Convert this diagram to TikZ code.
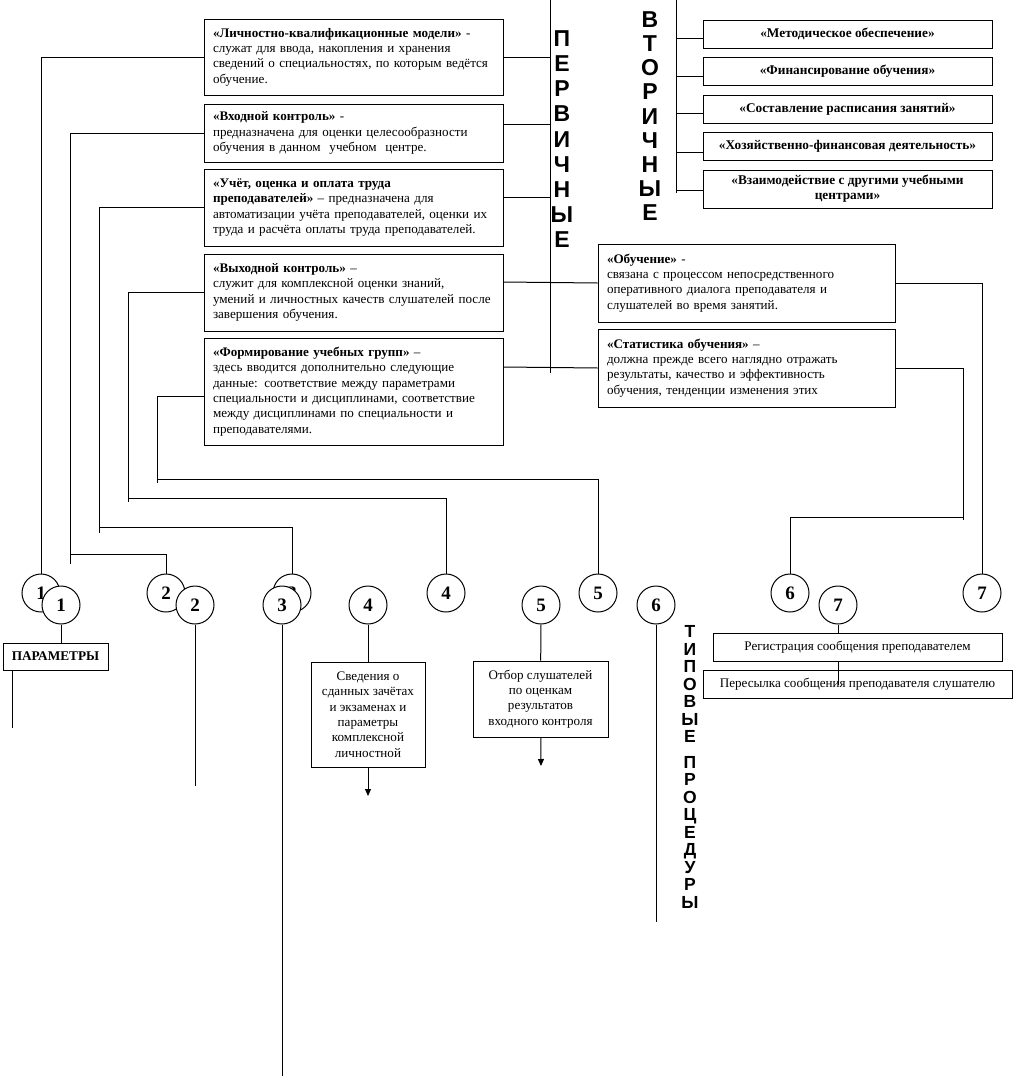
\documentclass[tikz,border=0pt]{standalone}
\usepackage{fontspec}
\setmainfont{Liberation Serif}
\newfontfamily\vsans{Liberation Sans}
\usetikzlibrary{arrows.meta}
\begin{document}
\begin{tikzpicture}[x=1pt,y=-1pt,line width=1pt,
  txt/.style={font=\fontsize{13.1}{15.3}\selectfont},
  btxt/.style={font=\bfseries\fontsize{13.3}{15.3}\selectfont},
  lbox/.style={draw,txt,inner xsep=9pt,inner ysep=0pt,align=left,text width=281pt,minimum width=299pt},
  obox/.style={draw,txt,inner xsep=9pt,inner ysep=0pt,align=left,text width=279pt,minimum width=297pt},
  rbox/.style={draw,btxt,inner sep=0pt,align=center,minimum width=289pt},
  cbox/.style={draw,txt,inner sep=0pt,align=center},
  circ/.style={circle,draw,fill=white,minimum size=38pt,inner sep=0pt,font=\bfseries\fontsize{19}{19}\selectfont},
  vword/.style={inner sep=0pt,anchor=north,align=center},
  arr/.style={-{Triangle[length=7pt,width=6pt]}}]
\useasboundingbox (0,0) rectangle (1014,1076);

% primary boxes (left)
\node[lbox,minimum height=76pt] (b1) at (353.5,57) {\textbf{«Личностно-квалификационные модели»} -\\служат для ввода, накопления и хранения\\сведений о специальностях, по которым ведётся\\обучение.};
\node[lbox,minimum height=58pt] (b2) at (353.5,133) {\textbf{«Входной контроль»} -\\предназначена для оценки целесообразности\\обучения в данном~ учебном~ центре.};
\node[lbox,minimum height=77pt] (b3) at (353.5,207.5) {\textbf{«Учёт, оценка и оплата труда}\\\textbf{преподавателей»} – предназначена для\\автоматизации учёта преподавателей, оценки их\\труда и расчёта оплаты труда преподавателей.};
\node[lbox,minimum height=77pt] (b4) at (353.5,292.5) {\textbf{«Выходной контроль»} –\\служит для комплексной оценки знаний,\\умений и личностных качеств слушателей после\\завершения обучения.};
\node[lbox,minimum height=107pt] (b5) at (353.5,391.5) {\textbf{«Формирование учебных групп»} –\\здесь вводится дополнительно следующие\\данные: соответствие между параметрами\\специальности и дисциплинами, соответствие\\между дисциплинами по специальности и\\преподавателями.};

% primary boxes (right)
\node[obox,minimum height=78pt] (ob) at (746.5,283) {\textbf{«Обучение»} -\\связана с процессом непосредственного\\оперативного диалога преподавателя и\\слушателей во время занятий.};
\node[obox,minimum height=78pt] (st) at (746.5,368) {\textbf{«Статистика обучения»} –\\должна прежде всего наглядно отражать\\результаты, качество и эффективность\\обучения, тенденции изменения этих};

% secondary boxes
\node[rbox,minimum height=28pt] (r1) at (847.5,34) {«Методическое обеспечение»};
\node[rbox,minimum height=28pt] (r2) at (847.5,71) {«Финансирование обучения»};
\node[rbox,minimum height=28pt] (r3) at (847.5,109) {«Составление расписания занятий»};
\node[rbox,minimum height=28pt] (r4) at (847.5,146) {«Хозяйственно-финансовая деятельность»};
\node[rbox,minimum height=38pt] (r5) at (847.5,189) {«Взаимодействие с другими учебными\\центрами»};

% vertical words
\node[vword,font=\vsans\bfseries\fontsize{23}{25.2}\selectfont] (pw) at (562,30) {П\\Е\\Р\\В\\И\\Ч\\Н\\Ы\\Е};
\node[vword,font=\vsans\bfseries\fontsize{23}{24.2}\selectfont] (vw) at (650,11) {В\\Т\\О\\Р\\И\\Ч\\Н\\Ы\\Е};
\node[vword,font=\vsans\bfseries\fontsize{17.5}{17.5}\selectfont] (tw) at (690,625) {Т\\И\\П\\О\\В\\Ы\\Е\\[8pt]П\\Р\\О\\Ц\\Е\\Д\\У\\Р\\Ы};

% trunks
\coordinate (ptop) at (550,0);
\coordinate (pbot) at (550,373);
\draw (ptop) -- (pbot);
\coordinate (vtop) at (676,0);
\coordinate (vbot) at (676,193);
\draw (vtop) -- (vbot);

% primary connectors to trunk
\draw (b1.east) -- (b1.east -| ptop);
\draw ([yshift=9pt]b2.east) -- ++(47,0);
\draw ([yshift=10.5pt]b3.east) -- ++(47,0);
\draw ([yshift=10.5pt]b4.east) -- (ob.west);
\draw ([yshift=24.5pt]b5.east) -- (st.west);

% secondary connectors
\draw ([yshift=-4pt]r1.west) -- ++(-27,0);
\draw ([yshift=-5pt]r2.west) -- ++(-27,0);
\draw ([yshift=-4pt]r3.west) -- ++(-27,0);
\draw ([yshift=-6pt]r4.west) -- ++(-27,0);
\draw ([yshift=-1pt]r5.west) -- ++(-27,0);

% upper circles
\node[circ] (u1) at (41,593) {1};
\node[circ] (u2) at (166,593) {2};
\node[circ] (u3) at (292,593) {3};
\node[circ] (u4) at (446,593) {4};
\node[circ] (u5) at (598,593) {5};
\node[circ] (u6) at (790,593) {6};
\node[circ] (u7) at (982,593) {7};

% left connectors from primary boxes to upper circles
\draw (b1.west) -| (u1);
\draw (b2.west) -| (70,564);
\draw (70,554) -| (u2);
\draw (b3.west) -| (99,533);
\draw (99,527) -| (u3);
\draw (b4.west) -| (128,502);
\draw (128,498) -| (u4);
\draw ([yshift=-4.5pt]b5.west) -| (157,483);
\draw (157,479) -| (u5);
\draw (ob.east) -| (u7);
\draw (st.east) -| (963,520);
\draw (963,517) -| (u6);

% lower circles
\node[circ] (l1) at (61,605) {1};
\node[circ] (l2) at (195,605) {2};
\node[circ] (l3) at (282,605) {3};
\node[circ] (l4) at (368,605) {4};
\node[circ] (l5) at (541,605) {5};
\node[circ] (l6) at (656,605) {6};
\node[circ] (l7) at (838,605) {7};

% typical procedures
\node[cbox,btxt,minimum width=105pt,minimum height=27pt] (par) at (55.5,656.5) {ПАРАМЕТРЫ};
\node[cbox,minimum width=114pt,minimum height=105pt] (sv) at (368,714.5) {Сведения о\\сданных зачётах\\и экзаменах и\\параметры\\комплексной\\личностной};
\node[cbox,minimum width=135pt,minimum height=76pt] (ot) at (540.5,699) {Отбор слушателей\\по оценкам\\результатов\\входного контроля};
\node[cbox,minimum width=289pt,minimum height=28pt] (reg) at (857.5,647) {Регистрация сообщения преподавателем};
\node[cbox,minimum width=309pt,minimum height=28pt] (per) at (857.5,684) {Пересылка сообщения преподавателя слушателю};

\coordinate (pend) at (12,728);
\coordinate (e2) at (195,786);
\coordinate (e3) at (282,1076);
\coordinate (e4) at (368,796);
\coordinate (e5) at (541,766);
\coordinate (e6) at (656,922);
\coordinate (e7) at (838,685);

\draw (l1) -- (l1 |- par.north);
\draw (pend |- par.south) -- (pend);
\draw (l2) -- (e2);
\draw (l3) -- (e3);
\draw (l4) -- (sv);
\draw[arr] (sv) -- (e4);
\draw (l5) -- (ot);
\draw[arr] (ot) -- (e5);
\draw (l6) -- (e6);
\draw (l7) -- (l7 |- reg.north);
\draw (l7 |- reg.south) -- (e7);
\end{tikzpicture}
\end{document}
